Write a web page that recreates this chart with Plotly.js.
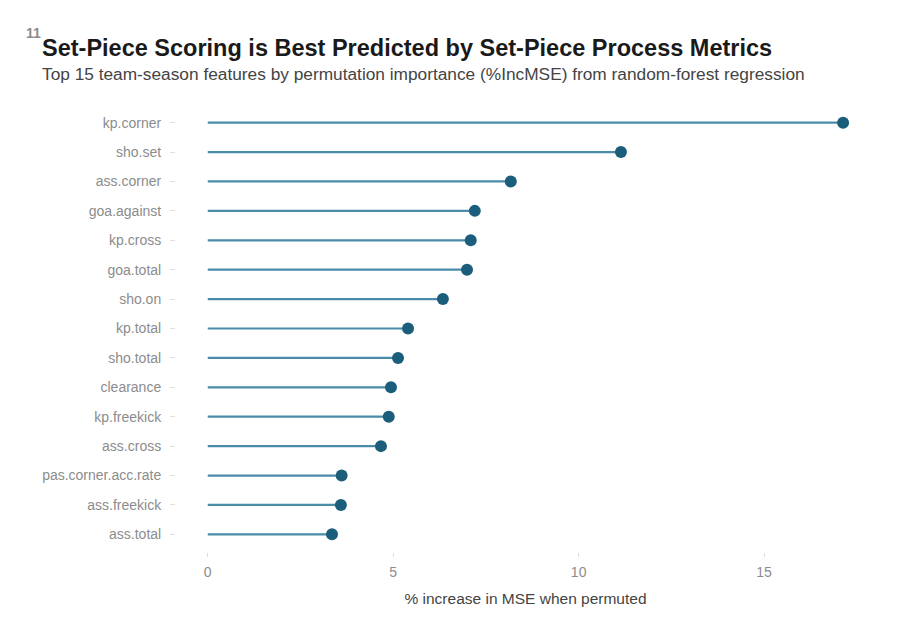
<!DOCTYPE html>
<html>
<head>
<meta charset="utf-8">
<script src="https://cdn.plot.ly/plotly-3.0.1.min.js"></script>
<style>
  body { margin: 0; background: #fff; }
  #myPlot { width: 904px; height: 622px; }
</style>
</head>
<body>
<div id="myPlot"></div>
<script>
// features, top to bottom
let features = ["kp.corner", "sho.set", "ass.corner", "goa.against", "kp.cross",
  "goa.total", "sho.on", "kp.total", "sho.total", "clearance",
  "kp.freekick", "ass.cross", "pas.corner.acc.rate", "ass.freekick", "ass.total"];
let incMSE = [17.13, 11.14, 8.17, 7.20, 7.09, 6.99, 6.34, 5.40, 5.13, 4.94,
  4.88, 4.67, 3.61, 3.59, 3.35];
let xTicks = [0, 5, 10, 15];

let font = "Liberation Sans, Arial, Helvetica, sans-serif";

// stems as one trace with gaps
let sx = [], sy = [];
for (let i = 0; i < features.length; i++) {
  sx.push(0, incMSE[i], null);
  sy.push(features[i], features[i], null);
}

var stems = {
  x: sx,
  y: sy,
  mode: 'lines',
  type: 'scatter',
  line: { color: '#4a8ba8', width: 2.2 },
  hoverinfo: 'skip',
  showlegend: false
};
var dots = {
  x: incMSE,
  y: features,
  mode: 'markers',
  type: 'scatter',
  marker: { color: '#1b5e7b', size: 12 },
  showlegend: false
};

var layout = {
  width: 904,
  height: 622,
  margin: { l: 176, r: 29, t: 105, b: 70 },
  paper_bgcolor: '#fff',
  plot_bgcolor: '#fff',
  font: { family: font },
  xaxis: {
    range: [-0.856, 17.99],
    tickvals: xTicks,
    ticktext: xTicks.map(String),
    showgrid: false,
    zeroline: false,
    showline: false,
    ticks: 'outside',
    ticklen: 4,
    tickcolor: '#dddddd',
    ticklabelstandoff: 3,
    tickfont: { size: 14, color: '#8c8c8c' },
    title: {
      text: '% increase in MSE when permuted',
      font: { size: 15.5, color: '#444444' },
      standoff: 14
    }
  },
  yaxis: {
    type: 'category',
    categoryorder: 'array',
    categoryarray: features,
    range: [14.6, -0.6],
    showgrid: false,
    zeroline: false,
    showline: false,
    ticks: 'outside',
    ticklen: 5,
    tickcolor: '#dddddd',
    ticklabelstandoff: 6,
    tickfont: { size: 14, color: '#8c8c8c' }
  },
  annotations: [
    {
      text: '<b>11</b>', xref: 'paper', yref: 'paper', x: -176 / 699, y: 1 + (105 - 33) / 447,
      xanchor: 'left', yanchor: 'middle', showarrow: false, xshift: 24,
      font: { size: 14, color: '#8c8c8c', family: font }
    },
    {
      text: '<b>Set-Piece Scoring is Best Predicted by Set-Piece Process Metrics</b>',
      xref: 'paper', yref: 'paper', x: -176 / 699, y: 1 + (105 - 48) / 447,
      xanchor: 'left', yanchor: 'middle', showarrow: false, xshift: 40,
      font: { size: 23.5, color: '#1a1a1a', family: font }
    },
    {
      text: 'Top 15 team-season features by permutation importance (%IncMSE) from random-forest regression',
      xref: 'paper', yref: 'paper', x: -176 / 699, y: 1 + (105 - 74) / 447,
      xanchor: 'left', yanchor: 'middle', showarrow: false, xshift: 40,
      font: { size: 17.3, color: '#444444', family: font }
    }
  ]
};

Plotly.newPlot("myPlot", [stems, dots], layout, { displayModeBar: false });
</script>
</body>
</html>
